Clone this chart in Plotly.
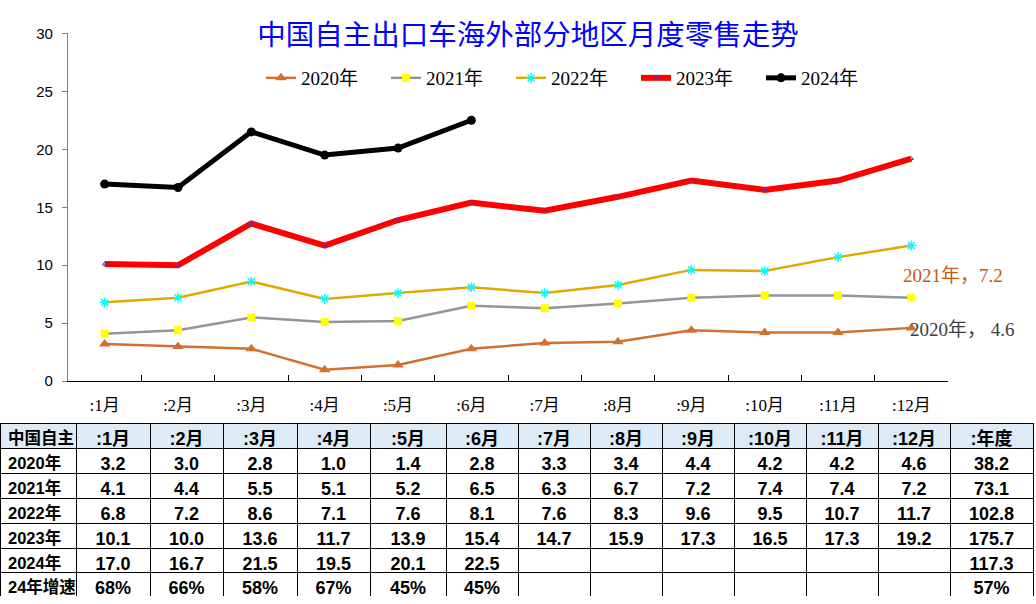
import plotly.graph_objects as go

months = [":1月", ":2月", ":3月", ":4月", ":5月", ":6月", ":7月", ":8月", ":9月", ":10月", ":11月", ":12月"]
years = ["2020年", "2021年", "2022年", "2023年", "2024年"]
y2020 = [3.2, 3.0, 2.8, 1.0, 1.4, 2.8, 3.3, 3.4, 4.4, 4.2, 4.2, 4.6]
y2021 = [4.1, 4.4, 5.5, 5.1, 5.2, 6.5, 6.3, 6.7, 7.2, 7.4, 7.4, 7.2]
y2022 = [6.8, 7.2, 8.6, 7.1, 7.6, 8.1, 7.6, 8.3, 9.6, 9.5, 10.7, 11.7]
y2023 = [10.1, 10.0, 13.6, 11.7, 13.9, 15.4, 14.7, 15.9, 17.3, 16.5, 17.3, 19.2]
y2024 = [17.0, 16.7, 21.5, 19.5, 20.1, 22.5]
annual = [38.2, 73.1, 102.8, 175.7, 117.3]
growth24 = ["68%", "66%", "58%", "67%", "45%", "45%"]
growth24_annual = "57%"
row_labels = ["2020年", "2021年", "2022年", "2023年", "2024年", "24年增速"]
table_corner = "中国自主"
annual_label = ":年度"

W, H = 1036, 604
fig = go.Figure()

styles = [
    dict(name=years[0], y=y2020, line=dict(color="#D2702F", width=2.5),
         marker=dict(symbol="triangle-up", size=10, color="#D2702F")),
    dict(name=years[1], y=y2021, line=dict(color="#959595", width=2.5),
         marker=dict(symbol="square", size=8, color="#FFFF00")),
    dict(name=years[2], y=y2022, line=dict(color="#E0A800", width=2.5),
         marker=dict(symbol="asterisk-open", size=8, color="#00FFFF", line=dict(color="#00FFFF", width=1.5))),
    dict(name=years[3], y=y2023, line=dict(color="#FF0000", width=6),
         marker=dict(symbol="triangle-up-open", size=4, color="#7030A0", line=dict(color="#7030A0", width=1))),
    dict(name=years[4], y=y2024, line=dict(color="#000000", width=5),
         marker=dict(symbol="circle", size=9, color="#000000")),
]
for s in styles:
    fig.add_trace(go.Scatter(x=months[:len(s["y"])], y=s["y"], name=s["name"], mode="lines+markers",
                             line=s["line"], marker=s["marker"], xaxis="x", yaxis="y"))

# Table
def fmt(v):
    return f"{v:.1f}"

all_series = [y2020, y2021, y2022, y2023, y2024]
cols = [row_labels]
for i in range(12):
    col = []
    for s in all_series:
        col.append(fmt(s[i]) if i < len(s) else "")
    col.append(growth24[i] if i < len(growth24) else "")
    cols.append(col)
cols.append([fmt(a) for a in annual] + [growth24_annual])

header_vals = [table_corner] + months + [annual_label]
widths = [76] + [74, 73, 74, 73, 76, 72, 72, 72, 72, 72, 72, 72] + [83]
aligns = ["left"] + ["center"] * 13
fsizes = [16.5] + [18] * 13

fig.add_trace(go.Table(
    domain=dict(x=[0, 1033 / W], y=[0, 177 / H]),
    columnwidth=widths,
    header=dict(values=header_vals, height=25, align=aligns,
                fill=dict(color="#DDEBF7"), line=dict(color="black", width=1),
                font=dict(family="Liberation Sans, Noto Sans CJK SC", size=fsizes, color="black", weight="bold")),
    cells=dict(values=cols, height=24.8, align=aligns,
               fill=dict(color="white"), line=dict(color="black", width=1),
               font=dict(family="Liberation Sans, Noto Sans CJK SC", size=fsizes, color="black", weight="bold")),
))

fig.add_annotation(x=11, y=7.2, xref="x", yref="y", text="2021年，7.2", showarrow=False,
                   xanchor="left", yanchor="middle", xshift=-10, yshift=22,
                   font=dict(family="Liberation Serif, Noto Sans CJK SC", size=19, color="#C55A11"))
fig.add_annotation(x=11, y=4.6, xref="x", yref="y", text="2020年， 4.6", showarrow=False,
                   xanchor="left", yanchor="middle", xshift=-3, yshift=-2,
                   font=dict(family="Liberation Serif, Noto Sans CJK SC", size=19, color="#404040"))

fig.update_layout(
    width=W, height=H,
    margin=dict(l=0, r=0, t=0, b=0),
    paper_bgcolor="white", plot_bgcolor="white",
    title=dict(text="中国自主出口车海外部分地区月度零售走势", x=528 / W, xanchor="center",
               y=1 - 35 / H, yanchor="middle",
               font=dict(family="Noto Sans CJK SC", size=28.5, color="#0000FF")),
    legend=dict(orientation="h", x=261 / W, xanchor="left", y=1 - 71 / H, yanchor="middle",
                font=dict(family="Liberation Serif, Noto Sans CJK SC", size=19, color="black"),
                entrywidth=80, entrywidthmode="pixels", itemwidth=30,
                bgcolor="rgba(0,0,0,0)"),
    xaxis=dict(domain=[68 / W, 948 / W], type="category", categoryorder="array", categoryarray=months,
               range=[-0.5, 11.5], showline=True, linecolor="black", linewidth=1.3,
               ticks="inside", tickson="boundaries", ticklen=6, tickcolor="black",
               showgrid=False, zeroline=False, ticklabelstandoff=8,
               tickfont=dict(family="Liberation Serif, Noto Sans CJK SC", size=17, color="black"),
               anchor="y"),
    yaxis=dict(domain=[(H - 383) / H, (H - 25) / H], range=[0, 30], dtick=5,
               showline=True, linecolor="#808080", linewidth=1.3,
               ticks="outside", ticklen=5, tickcolor="#808080",
               showgrid=False, zeroline=False, ticklabelstandoff=6,
               tickfont=dict(family="Liberation Sans Narrow, Liberation Sans", size=15, color="black"),
               anchor="x"),
)

fig.write_html("out.html")
